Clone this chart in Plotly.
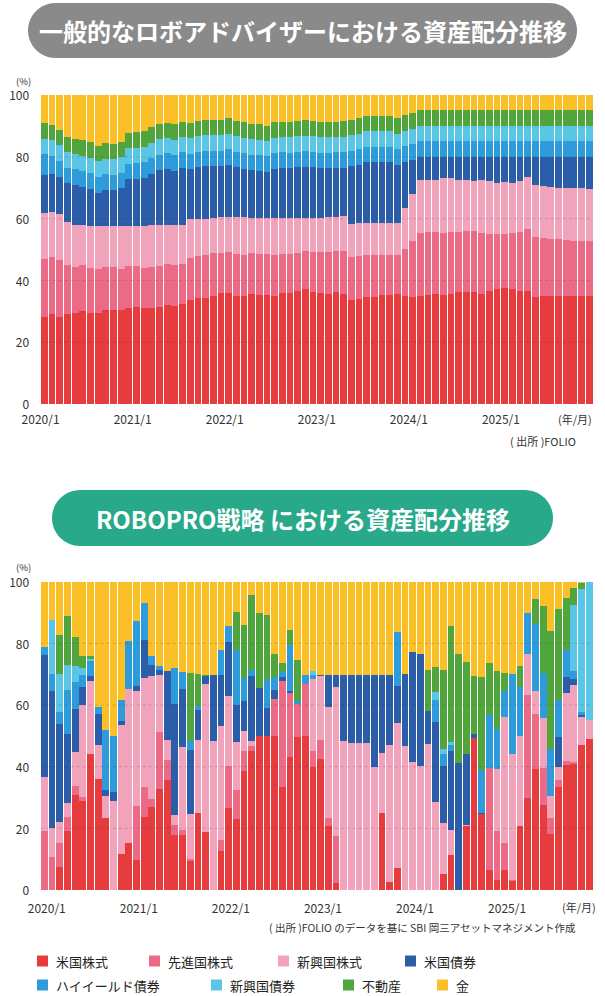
import plotly.graph_objects as go

W, H = 605, 996

# ---------------- data ----------------
SERIES = ["米国株式", "先進国株式", "新興国株式", "米国債券", "ハイイールド債券", "新興国債券", "不動産", "金"]
COLORS = ["#E63C3E", "#EB6A85", "#F2A3BC", "#2C5DA8", "#2E9CDB", "#5BC5E6", "#50A63C", "#FBBF27"]

N_MONTHS = 72
MONTH_IDX = list(range(N_MONTHS))
YEAR_TICKS = ["2020/1", "2021/1", "2022/1", "2023/1", "2024/1", "2025/1"]

# --- typical robo-advisor (top chart) ---
TOP_US = [28.0,29.1,28.0,29.0,29.6,30.0,29.3,29.5,30.3,30.3,30.4,31.0,31.3,31.0,31.2,31.5,32.0,31.7,32.3,33.8,
          34.4,34.4,35.0,35.9,35.9,35.1,35.1,35.6,35.4,35.2,35.1,35.8,35.9,36.5,37.2,36.1,35.8,35.7,36.1,35.5,
          33.5,33.9,34.5,34.5,35.3,35.4,35.6,35.1,34.7,35.1,35.4,35.5,35.3,35.5,36.2,36.2,36.1,35.7,36.5,37.3,
          37.5,37.3,36.6,36.5,34.5,35.0,35.0,35.0,34.8,34.8,34.8,34.8]
TOP_DEV = [18.8,18.6,18.6,16.0,14.8,14.9,14.6,14.2,13.9,14.0,13.4,13.7,13.4,13.0,13.1,13.3,13.2,13.4,12.9,13.6,
           13.4,13.7,13.8,13.1,13.3,13.4,13.2,13.2,13.1,13.2,13.2,12.9,12.8,12.4,12.3,13.1,13.3,13.4,13.3,13.9,
           14.0,14.0,13.6,13.6,12.8,12.7,12.5,15.0,18.2,20.3,20.2,20.3,20.1,20.1,19.4,19.7,19.8,19.6,18.6,17.8,
           17.4,18.0,19.0,20.0,19.4,18.8,18.4,18.4,18.3,18.1,17.9,18.1]
TOP_EM = [14.9,14.4,14.8,13.8,13.5,12.9,13.7,13.8,13.3,13.2,13.7,12.9,12.9,13.7,13.5,13.1,12.7,12.7,12.6,12.4,
          12.2,11.9,11.5,11.4,11.3,11.9,12.1,11.3,11.6,11.8,11.9,11.5,11.5,11.3,10.7,11.1,11.2,11.4,11.2,11.4,
          10.8,10.6,10.6,10.6,10.6,10.6,10.6,13.2,15.1,17.1,16.9,16.7,17.6,17.4,16.9,16.6,16.3,17.2,17.1,16.3,
          16.8,16.2,16.5,17.0,16.9,16.7,16.7,16.5,16.9,17.1,17.1,16.8]
TOP_USB = [12.5,12.2,12.1,12.7,12.9,12.5,12.1,10.9,11.9,11.6,12.3,15.2,15.2,15.5,16.6,17.8,18.2,17.7,18.6,16.2,
           16.6,16.9,16.6,16.6,16.9,16.2,15.8,15.6,15.4,14.9,16.0,16.2,16.1,16.4,16.6,16.4,16.0,15.8,15.8,15.7,
           18.7,18.9,19.5,19.5,19.5,19.5,18.7,15.1,11.1,7.5,7.5,7.5,7.0,7.0,7.5,7.5,7.8,7.5,7.8,8.6,
           8.3,8.5,7.9,6.5,9.2,9.5,9.9,10.1,10.0,10.0,10.2,10.3]
TOP_HY = [6.6,6.0,5.3,5.0,5.1,5.0,5.0,5.1,5.0,5.1,5.0,5.0,5.1,5.0,5.1,5.0,5.0,5.0,5.0,5.0,
          5.0,5.0,5.0,5.0,5.0,5.0,5.0,5.0,5.0,5.0,5.0,5.0,5.0,5.0,5.0,5.0,5.0,5.0,5.0,5.0,
          5.0,5.0,5.0,5.0,5.0,5.0,5.0,5.0,5.0,5.0,5.0,5.0,5.0,5.0,5.0,5.0,5.0,5.0,5.0,5.0,
          5.0,5.0,5.0,5.0,5.0,5.0,5.0,5.0,5.0,5.0,5.0,5.0]
TOP_EMB = [5.0,5.0,5.0,5.0,5.0,5.0,5.0,5.0,5.0,5.0,5.0,5.0,5.0,5.0,5.0,5.0,5.0,5.0,5.0,5.0,
           5.0,5.0,5.0,5.0,5.0,5.0,5.0,5.0,5.0,5.0,5.0,5.0,5.0,5.0,5.0,5.0,5.0,5.0,5.0,5.0,
           5.0,5.0,5.0,5.0,5.0,5.0,5.0,5.0,5.0,5.0,5.0,5.0,5.0,5.0,5.0,5.0,5.0,5.0,5.0,5.0,
           5.0,5.0,5.0,5.0,5.0,5.0,5.0,5.0,5.0,5.0,5.0,5.0]
TOP_REIT = [5.0,5.0,5.0,5.0,5.0,5.0,5.0,5.0,5.0,5.0,5.0,5.0,5.0,5.0,5.0,5.0,5.0,5.0,5.0,5.0,
            5.0,5.0,5.0,5.0,5.0,5.0,5.0,5.0,5.0,5.0,5.0,5.0,5.0,5.0,5.0,5.0,5.0,5.0,5.0,5.0,
            5.0,5.0,5.0,5.0,5.0,5.0,5.0,5.0,5.0,5.0,5.0,5.0,5.0,5.0,5.0,5.0,5.0,5.0,5.0,5.0,
            5.0,5.0,5.0,5.0,5.0,5.0,5.0,5.0,5.0,5.0,5.0,5.0]
TOP_GOLD = [9.2,9.7,11.2,13.5,14.1,14.7,15.3,16.5,15.6,15.8,15.2,12.2,12.1,11.8,10.5,9.3,8.9,9.5,8.6,9.0,
            8.4,8.1,8.1,8.0,7.6,8.4,8.8,9.3,9.5,9.9,8.8,8.6,8.7,8.4,8.2,8.3,8.7,8.7,8.6,8.5,
            8.0,7.6,6.8,6.8,6.8,6.8,7.6,6.6,5.9,5.0,5.0,5.0,5.0,5.0,5.0,5.0,5.0,5.0,5.0,5.0,
            5.0,5.0,5.0,5.0,5.0,5.0,5.0,5.0,5.0,5.0,5.0,5.0]

# --- ROBOPRO (bottom chart) ---
BOT_US = [0,0,7.4,19.0,30.9,29.0,44.2,36.1,23.4,0,11.7,15.2,9.8,23.7,27.0,32.9,35.8,17.9,17.9,9.3,
          25.0,18.7,0,12.5,26.6,23.0,38.7,45.2,49.8,49.8,49.8,33.3,43.1,49.5,49.8,39.9,42.6,20.6,2.3,0,
          0,0,0,0,24.9,2.6,7.1,0,0,0,0,0,5.2,11.5,0,20.6,49.3,24.6,6.6,3.4,
          6.6,3.0,20.6,29.8,39.2,27.7,18.2,33.3,40.4,40.9,47.1,49.1]
BOT_DEV = [19.0,10.6,7.7,4.8,2.9,1.2,0,0,0,0,0,0,17.5,9.6,2.6,18.4,6.3,3.2,1.6,0.9,
           0,0,0,3.8,13.5,9.3,6.5,1.4,0,0,12.2,34.4,20.8,10.9,17.0,5.1,5.9,2.9,15.1,0,
           0,0,0,0,0,0,0,0,0,0,0,0,0,0,0,0,0,0,33.0,15.7,
           8.6,0.3,0,33.3,17.9,11.9,5.2,2.5,1.5,0.5,0,0]
BOT_EM = [17.5,9.5,6.9,4.4,11.1,29.7,23.5,11.0,7.0,28.8,41.9,49.9,37.1,35.5,39.7,18.3,6.4,3.2,27.0,14.3,
          23.6,48.2,48.4,36.8,22.7,15.7,6.3,1.6,0,0,0,0,0,0,0,23.5,20.8,35.7,48.3,48.4,
          47.7,47.7,47.7,39.8,19.6,44.5,47.0,46.6,41.4,40.1,47.5,28.5,16.5,8.1,0,0.5,0,0,0,20.0,
          40.8,40.8,29.4,13.4,7.5,16.2,7.0,4.0,21.9,25.2,8.9,6.2]
BOT_USB = [39.6,44.3,31.7,22.5,13.8,5.9,1.6,9.9,2.1,3.0,1.1,0,1.8,12.4,3.6,1.7,22.5,35.9,18.6,20.9,
           9.7,2.4,21.4,16.5,17.8,12.1,9.9,21.1,15.7,9.2,2.9,1.4,0.5,0,0,0,0.5,10.6,4.1,21.4,
           22.1,22.1,22.1,30.0,25.3,22.7,12.2,23.4,35.8,36.4,10.7,25.9,18.4,25.6,41.2,22.9,1.3,0.5,0,0,
           0,0,0,0,0,0,0,9.7,5.4,1.8,0.9,0]
BOT_HY = [2.7,5.7,4.1,14.3,8.9,3.8,5.1,2.2,19.4,18.1,7.0,15.7,21.2,11.9,2.9,1.3,0,11.7,5.5,2.9,
          1.5,0,0,8.1,5.1,17.8,7.4,1.9,0,9.2,4.3,1.6,15.1,0.8,3.0,1.2,0,0,0,0,
          0,0,0,0,0,0,17.5,0,0,0,0,7.2,4.0,1.9,0,0,0,13.8,17.1,13.0,
          8.4,25.9,15.7,13.5,21.6,14.6,15.4,12.2,8.6,2.7,0.8,0]
BOT_EMB = [0,17.5,12.4,7.9,4.9,2.4,0.5,0,0,0,0,0,0,0,0,0,0,0,0,0,
           0,0,0,0,0,0,0,0,0,0,0,0,0,0,0,1.3,0,0,0,0,
           0,0,0,0,0,0,0,0,0,0,0,2.7,1.6,0.8,0,0,0,0,0,0,
           0,0,0,0,0,0,0,0,0,21.2,39.8,44.7]
BOT_REIT = [0,0,12.4,15.9,9.7,3.8,0.9,0.3,0,0,0,0,0,0,0,0,0,0,0,22.2,
            10.4,0.5,0,0,0,12.4,17.1,24.5,24.3,21.1,7.2,2.9,4.9,13.5,0,0,0,0,0,0,
            0,0,0,0,0,0,0,0,0,0,13.3,8.1,25.5,37.8,35.3,30.1,18.7,30.1,17.0,18.9,
            5.9,0,6.8,0,8.2,21.8,38.2,29.5,16.8,5.8,2.2,0]
BOT_GOLD = [21.2,12.4,17.4,11.2,17.8,24.2,24.2,40.5,48.1,50.1,38.3,19.2,12.6,6.9,24.2,27.4,29.0,28.1,29.4,29.5,
            29.8,30.2,30.2,22.3,14.3,9.7,14.1,4.3,10.2,10.7,23.6,26.4,15.6,25.3,30.2,29.0,30.2,30.2,30.2,30.2,
            30.2,30.2,30.2,30.2,30.2,30.2,16.2,30.0,22.8,23.5,28.5,27.6,28.8,14.3,23.5,25.9,30.7,31.0,26.3,29.0,
            29.7,30.0,27.5,10.0,5.6,7.8,16.0,8.8,5.4,1.9,0.3,0]

TOP_DATA = [TOP_US, TOP_DEV, TOP_EM, TOP_USB, TOP_HY, TOP_EMB, TOP_REIT, TOP_GOLD]
BOT_DATA = [BOT_US, BOT_DEV, BOT_EM, BOT_USB, BOT_HY, BOT_EMB, BOT_REIT, BOT_GOLD]

FONT = "Noto Sans CJK JP, Noto Sans, sans-serif"
TXT = "#333333"


def X(px):
    return px / W


def Y(py):
    return 1 - py / H


fig = go.Figure()

for name, col, vals in zip(SERIES, COLORS, TOP_DATA):
    fig.add_trace(go.Bar(x=MONTH_IDX, y=vals, name=name, marker=dict(color=col, line=dict(width=0)),
                         xaxis="x", yaxis="y", showlegend=False))
for name, col, vals in zip(SERIES, COLORS, BOT_DATA):
    fig.add_trace(go.Bar(x=MONTH_IDX, y=vals, name=name, marker=dict(color=col, line=dict(width=0)),
                         xaxis="x2", yaxis="y2", showlegend=False))

x_dom = [X(40.6), X(593.0)]
top_y_dom = [Y(404), Y(95)]
bot_y_dom = [Y(890), Y(581.7)]

common_x = dict(range=[-0.5, N_MONTHS - 0.5], showgrid=False, zeroline=False, showline=False,
                automargin=False,
                tickmode="array", ticktext=YEAR_TICKS, ticks="outside", tickcolor="rgba(0,0,0,0)",
                tickfont=dict(family=FONT, size=12, color=TXT), fixedrange=True)
common_y = dict(range=[0, 100], showgrid=False, zeroline=False, showline=False,
                automargin=False,
                tickmode="array", tickvals=[0, 20, 40, 60, 80, 100], ticks="outside",
                tickcolor="rgba(0,0,0,0)", ticklen=8, ticklabelshift=1,
                tickfont=dict(family=FONT, size=12, color=TXT), fixedrange=True)

fig.update_layout(
    width=W, height=H, autosize=False,
    margin=dict(l=0, r=0, t=0, b=0, pad=0, autoexpand=False),
    paper_bgcolor="white", plot_bgcolor="white",
    barmode="stack", bargap=0.12,
    showlegend=False,
    xaxis=dict(common_x, domain=x_dom, anchor="y", tickvals=[-0.5, 11.5, 23.5, 35.5, 47.5, 59.5], ticklen=5),
    yaxis=dict(common_y, domain=top_y_dom, anchor="x"),
    xaxis2=dict(common_x, domain=x_dom, anchor="y2", tickvals=[0.3, 12.3, 24.3, 36.3, 48.3, 60.3], ticklen=8),
    yaxis2=dict(common_y, domain=bot_y_dom, anchor="x2"),
)

shapes = []
# faint dotted gridlines drawn over the bars
for yr, xr in (("y", "x"), ("y2", "x2")):
    for v in (20, 40, 60, 80):
        shapes.append(dict(type="line", xref=xr + " domain", yref=yr, x0=0, x1=1, y0=v, y1=v,
                           line=dict(color="rgba(40,40,40,0.18)", width=1, dash="dot"), layer="above"))


def pill(x0, y0, x1, y1, color):
    r = (y1 - y0) / 2
    k = 0.5523 * r
    p = (f"M {X(x0 + r)},{Y(y0)} L {X(x1 - r)},{Y(y0)} "
         f"C {X(x1 - r + k)},{Y(y0)} {X(x1)},{Y(y0 + r - k)} {X(x1)},{Y(y0 + r)} "
         f"C {X(x1)},{Y(y0 + r + k)} {X(x1 - r + k)},{Y(y1)} {X(x1 - r)},{Y(y1)} "
         f"L {X(x0 + r)},{Y(y1)} "
         f"C {X(x0 + r - k)},{Y(y1)} {X(x0)},{Y(y0 + r + k)} {X(x0)},{Y(y0 + r)} "
         f"C {X(x0)},{Y(y0 + r - k)} {X(x0 + r - k)},{Y(y0)} {X(x0 + r)},{Y(y0)} Z")
    return dict(type="path", xref="paper", yref="paper", path=p, fillcolor=color,
                line=dict(width=0), layer="below")


shapes.append(pill(28, 3, 577, 58, "#8A8A8A"))
shapes.append(pill(52, 490, 553, 546, "#27A98A"))

annotations = []


def text(x, y, s, size=12, color=TXT, xanchor="center", weight=None):
    f = dict(family=FONT, size=size, color=color)
    if weight:
        f["weight"] = weight
    annotations.append(dict(x=X(x), y=Y(y), xref="paper", yref="paper", text=s, showarrow=False,
                            xanchor=xanchor, yanchor="middle", font=f))


text(302.5, 30.5, "一般的なロボアドバイザーにおける資産配分推移", size=24, color="white", weight=700)
text(302.5, 518, "ROBOPRO戦略 における資産配分推移", size=24, color="white", weight=700)

text(23.5, 81, "(%)", size=9.5)
text(23.5, 567, "(%)", size=9.5)
text(575, 419, "(年/月)", size=11)
text(579, 907, "(年/月)", size=11)
text(578, 441, "( 出所 )FOLIO", size=11, xanchor="right")
text(578, 927, "( 出所 )FOLIO のデータを基に SBI 岡三アセットマネジメント作成", size=10.5, xanchor="right")

# legend (manual, 2 rows x 4)
legend_pos = [(37, 961), (149, 961), (278, 961), (405, 961),
              (37, 985), (211, 985), (343, 985), (437, 985)]
for (lx, ly), name, col in zip(legend_pos, SERIES, COLORS):
    shapes.append(dict(type="rect", xref="paper", yref="paper", x0=X(lx), x1=X(lx + 11),
                       y0=Y(ly + 5.5), y1=Y(ly - 5.5), fillcolor=col, line=dict(width=0)))
    text(lx + 17, ly, name, size=13, color="#222222", xanchor="left")

fig.update_layout(shapes=shapes, annotations=annotations)

# remove the browser's default 8px page margin so the 605x996 figure fills the window exactly
fig.write_html("out.html",
               config={"staticPlot": True, "displayModeBar": False},
               post_script="document.body.style.margin='0';document.body.style.overflow='hidden';")
